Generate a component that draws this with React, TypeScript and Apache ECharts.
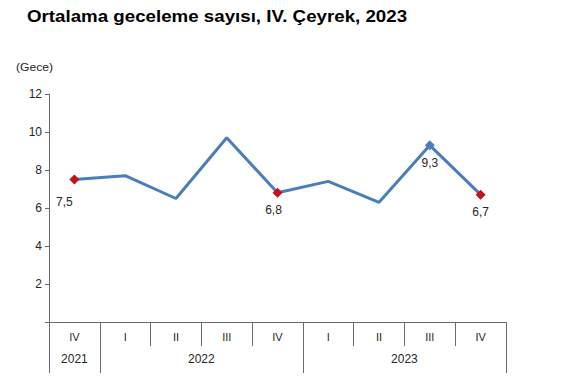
import React, { useEffect, useRef } from "react";
import * as echarts from "echarts";

const quarters = ["IV", "I", "II", "III", "IV", "I", "II", "III", "IV"];
const years = ["2021", "2022", "2023"];
const yearBounds = [0, 1, 5, 9];
const yearCenters = [0.5, 3, 7];
const values = [7.5, 7.7, 6.5, 9.7, 6.8, 7.4, 6.3, 9.3, 6.7];
const markedRed = [0, 4, 8];
const markedBlue = [7];
const yTicks = [0, 2, 4, 6, 8, 10, 12];
const titleText = "Ortalama geceleme sayısı, IV. Çeyrek, 2023";
const unitText = "(Gece)";

const LINE = "#4A7EBB";
const RED = "#C0141C";
const TXT = "#262626";
const AX = "#6b6b6b";
const FONT = "Liberation Sans";

export default function App() {
  const ref = useRef<HTMLDivElement>(null);
  useEffect(() => {
    const chart = echarts.init(ref.current!, null, { renderer: "svg" });
    const labelOffsets: Record<number, number[]> = { 0: [-10, 5], 4: [-4, 0], 7: [0, 1], 8: [0, 0] };
    const data = values.map((v, i) => {
      const isRed = markedRed.includes(i);
      const isBlue = markedBlue.includes(i);
      const marked = isRed || isBlue;
      return {
        value: v,
        symbol: marked ? "diamond" : "none",
        symbolSize: 10,
        itemStyle: { color: isRed ? RED : LINE },
        label: {
          show: marked,
          position: "bottom",
          offset: labelOffsets[i] || [0, 0],
          distance: 6,
          formatter: (p: any) => String(p.value).replace(".", ","),
          color: TXT,
          fontSize: 12,
          fontFamily: FONT,
        },
      };
    });
    chart.setOption({
      animation: false,
      graphic: [
        {
          type: "text",
          x: 27,
          y: 8,
          scaleX: 1.17,
          style: {
            text: titleText,
            fontSize: 16,
            fontWeight: "bold",
            fill: "#000",
            fontFamily: FONT,
            verticalAlign: "top",
          },
        },
        {
          type: "text",
          x: 16,
          y: 62,
          scaleX: 1.1,
          style: { text: unitText, fontSize: 11, fill: TXT, fontFamily: FONT, verticalAlign: "top" },
        },
      ],
      grid: { left: 49, right: 58, top: 94, bottom: 54, outerBoundsMode: "none" },
      xAxis: [
        {
          type: "category",
          data: quarters,
          boundaryGap: true,
          axisLine: { show: true, lineStyle: { color: AX, width: 1 } },
          axisTick: { show: true, length: 24, alignWithLabel: false, lineStyle: { color: AX } },
          axisLabel: { margin: 9, color: TXT, fontSize: 11, fontFamily: FONT },
          splitLine: { show: false },
        },
        {
          type: "value",
          min: 0,
          max: 9,
          position: "bottom",
          axisLine: { show: false },
          axisTick: { show: true, customValues: yearBounds, length: 51, lineStyle: { color: AX } },
          axisLabel: {
            customValues: yearCenters,
            margin: 31,
            color: TXT,
            fontSize: 12,
            fontFamily: FONT,
            formatter: (v: number) => years[yearCenters.indexOf(v)] ?? "",
          },
          splitLine: { show: false },
        },
      ],
      yAxis: {
        type: "value",
        min: yTicks[0],
        max: yTicks[yTicks.length - 1],
        interval: 2,
        axisLine: { show: true, lineStyle: { color: AX } },
        axisTick: { show: true, length: 4, lineStyle: { color: AX } },
        axisLabel: {
          color: TXT,
          fontSize: 12,
          margin: 7,
          fontFamily: FONT,
          formatter: (v: number) => (v === 0 ? "" : String(v)),
        },
        splitLine: { show: false },
      },
      series: [
        {
          type: "line",
          xAxisIndex: 0,
          data,
          showSymbol: true,
          symbol: "none",
          lineStyle: { color: LINE, width: 3 },
          itemStyle: { color: LINE },
          z: 3,
        },
      ],
    });
    return () => chart.dispose();
  }, []);
  return (
    <div
      ref={ref}
      style={{ position: "fixed", left: 0, top: 0, width: 564, height: 376, background: "#fff" }}
    />
  );
}
